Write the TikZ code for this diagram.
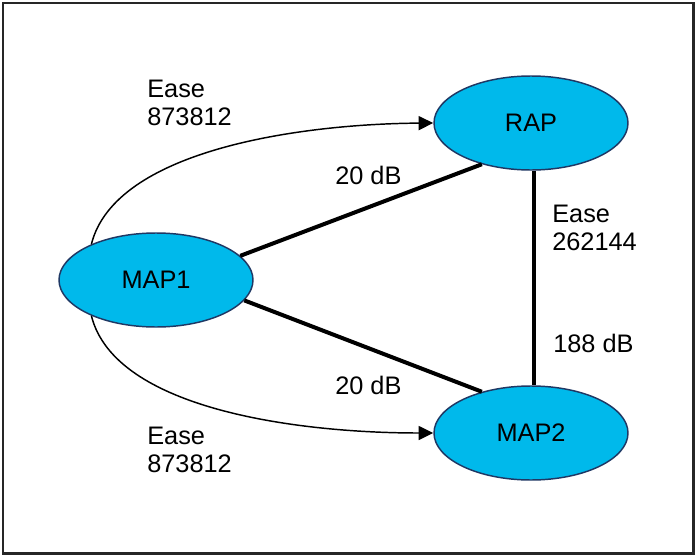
\documentclass[tikz,border=0pt]{standalone}
\usepackage{fontspec}
\setmainfont{Liberation Sans}
\usetikzlibrary{arrows.meta,shapes.geometric}
\definecolor{nodefill}{HTML}{00B9EB}
\definecolor{nodeline}{HTML}{1F3864}
\begin{document}
\begin{tikzpicture}[x=0.75pt,y=-0.75pt,
  apnode/.style={ellipse, draw=nodeline, line width=1.1pt, fill=nodefill,
    minimum width=145.5pt, minimum height=70.5pt, inner sep=0pt, font=\fontsize{19}{21}\selectfont},
  lbl/.style={anchor=base west, inner sep=0pt, align=left, font=\fontsize{19}{21}\selectfont},
  thickline/.style={line width=3pt},
  curvearrow/.style={line width=1.1pt, -{Triangle[length=11pt,width=10.5pt]}}
]
\useasboundingbox (0,0) rectangle (697,557);
\draw[line width=1.8pt, draw=black!85] (3,3) rectangle (693.5,553.5);

\node[apnode] (RAP) at (531,123) {RAP};
\node[apnode] (MAP1) at (156,280) {MAP1};
\node[apnode] (MAP2) at (531,433) {MAP2};

\draw[thickline] (MAP1.16) -- (RAP.220);
\draw[thickline] (MAP1.-13) -- (MAP2.140);
\draw[thickline] ([xshift=2.25pt]RAP.south) -- ([xshift=2.25pt]MAP2.north);

\draw[curvearrow] (MAP1.151) .. controls (115,150) and (300,124) .. (RAP.west);
\draw[curvearrow] (MAP1.-151) .. controls (115,410) and (300,433) .. (MAP2.west);

\node[lbl] (l1) at (147,125) {Ease\\873812};
\node[lbl] (l2) at (335,184) {20 dB};
\node[lbl] (l3) at (552,250) {Ease\\262144};
\node[lbl] (l4) at (553,352) {188 dB};
\node[lbl] (l5) at (335,394) {20 dB};
\node[lbl] (l6) at (147,472) {Ease\\873812};
\end{tikzpicture}
\end{document}
